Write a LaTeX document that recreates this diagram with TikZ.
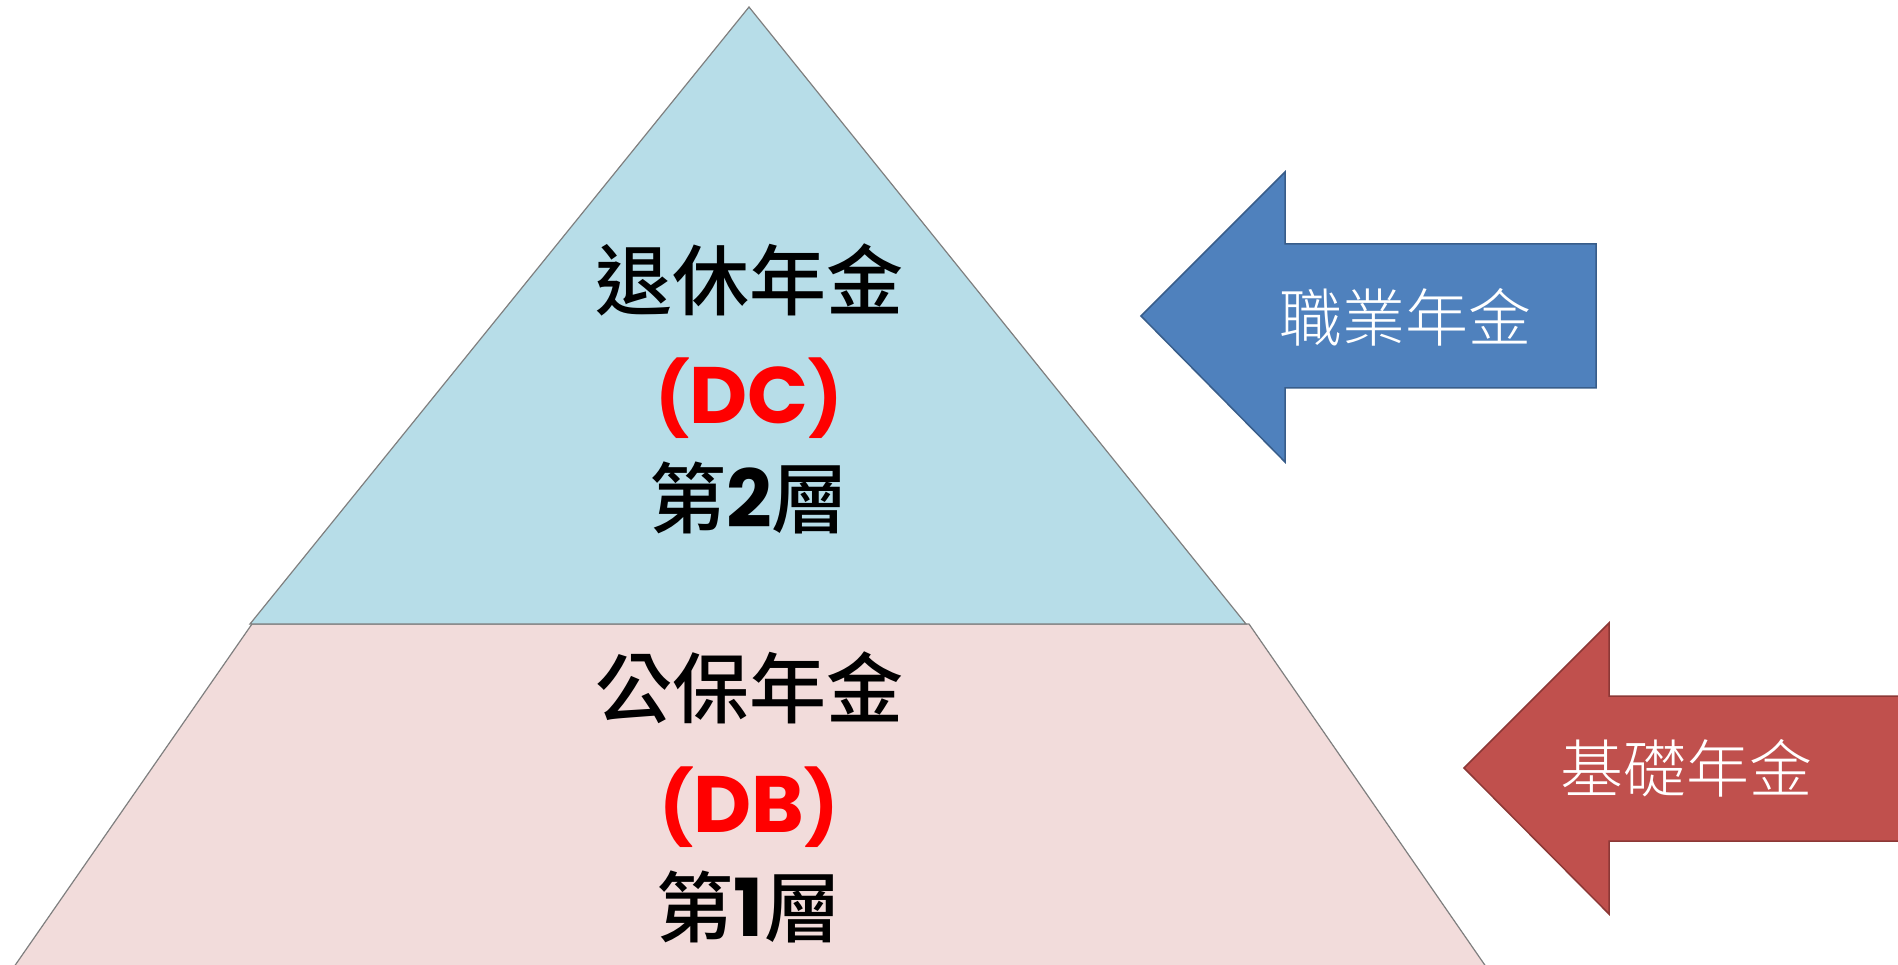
\documentclass[tikz,border=0pt]{standalone}
\usepackage{fontspec}
\newfontfamily\cjkm{Noto Sans CJK TC Medium}
\newfontfamily\cjkl{Noto Sans CJK TC Light}
\newfontfamily\latinb{Poppins}
\definecolor{topfill}{HTML}{B7DDE8}
\definecolor{botfill}{HTML}{F2DCDB}
\definecolor{edgegray}{HTML}{7F7F7F}
\definecolor{bluefill}{HTML}{4F81BD}
\definecolor{blueedge}{HTML}{385D8A}
\definecolor{redfill}{HTML}{C0504D}
\definecolor{rededge}{HTML}{8C3836}
\definecolor{labred}{HTML}{FF0000}
\newcommand{\digitb}[1]{{\latinb\bfseries\fontsize{80}{80}\selectfont #1}}
\newcommand{\parb}[1]{{\fontsize{72}{76}\selectfont #1}}
\tikzset{
  layer/.style={draw=edgegray, line width=1.2pt},
  bigtxt/.style={font=\cjkm\fontsize{77}{80}\selectfont, text=black, inner sep=0pt},
  abbr/.style={font=\latinb\bfseries\fontsize{80}{80}\selectfont, text=labred, inner sep=0pt},
  arrtxt/.style={font=\cjkl\fontsize{63}{66}\selectfont, text=white, inner sep=0pt},
}
\begin{document}
\begin{tikzpicture}[x=1pt,y=-1pt]
\useasboundingbox (0,0) rectangle (1898,965);
\begin{scope}
\clip (0,0) rectangle (1898,965);
% bottom layer
\draw[layer, fill=botfill] (252,624) -- (1249,624) -- (1509,1000) -- (-9,1000) -- cycle;
% top layer
\draw[layer, fill=topfill] (749,7) -- (1246,624) -- (250,624) -- cycle;
% blue arrow
\draw[fill=bluefill, draw=blueedge, line width=1.5pt]
  (1141,316) -- (1285,172) -- (1285,244) -- (1596,244) -- (1596,388) -- (1285,388) -- (1285,462) -- cycle;
% red arrow
\draw[fill=redfill, draw=rededge, line width=1.5pt]
  (1464,768) -- (1609,623) -- (1609,696) -- (1920,696) -- (1920,841) -- (1609,841) -- (1609,914) -- cycle;
\end{scope}
% texts
\node[bigtxt] (t2a) at (749,280) {退休年金};
\node[abbr]   (t2b) at (749,398) {\parb{(}DC\parb{)}};
\node[bigtxt] (t2c) at (749,498) {第\digitb{2}層};
\node[bigtxt] (t1a) at (749,688) {公保年金};
\node[abbr]   (t1b) at (749,807) {\parb{(}DB\parb{)}};
\node[bigtxt] (t1c) at (749,907) {第\digitb{1}層};
\node[arrtxt] (occ) at (1405,317) {職業年金};
\node[arrtxt] (bas) at (1686,768) {基礎年金};
\end{tikzpicture}
\end{document}
